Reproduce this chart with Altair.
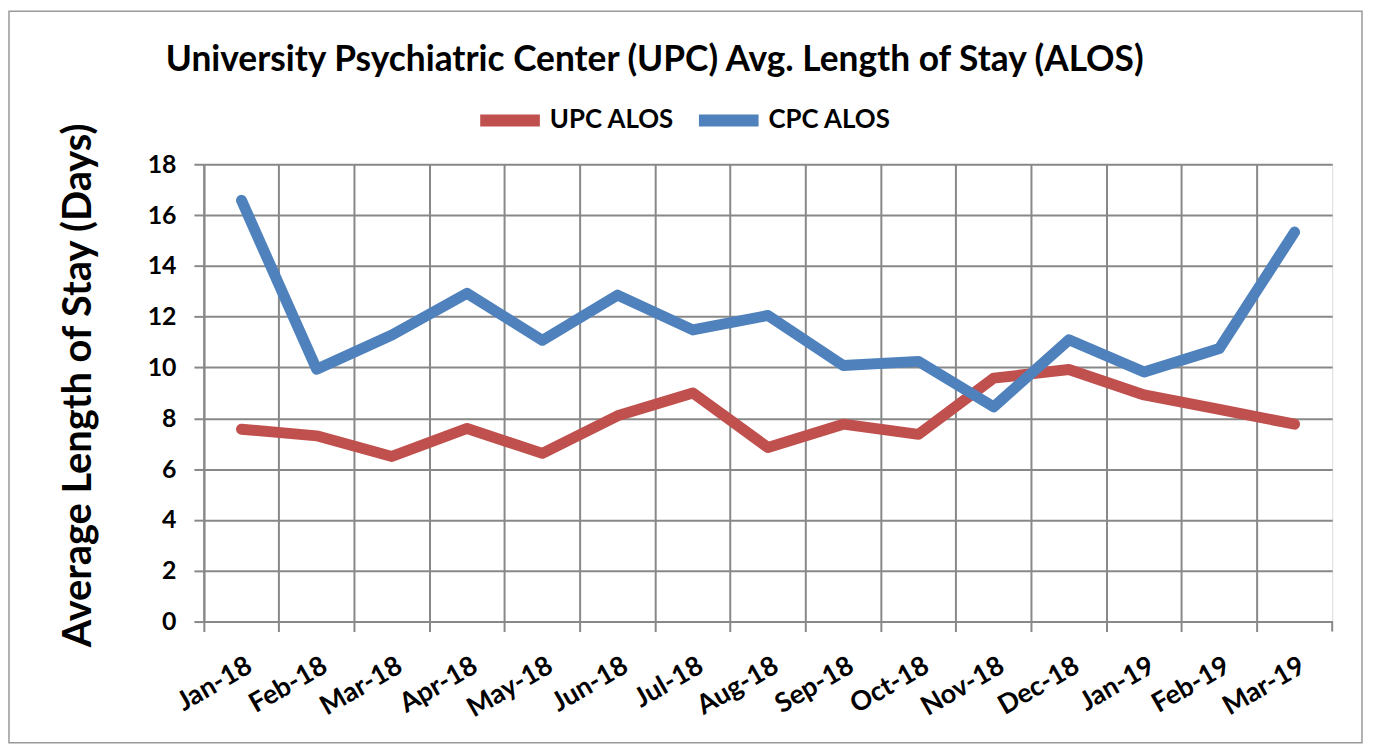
import altair as alt
import pandas as pd

months = ["Jan-18", "Feb-18", "Mar-18", "Apr-18", "May-18", "Jun-18", "Jul-18", "Aug-18",
          "Sep-18", "Oct-18", "Nov-18", "Dec-18", "Jan-19", "Feb-19", "Mar-19"]
upc_alos = [7.57, 7.31, 6.50, 7.60, 6.62, 8.10, 9.00, 6.85, 7.77, 7.37, 9.58, 9.92, 8.92, 8.35, 7.77]
cpc_alos = [16.58, 9.93, 11.28, 12.92, 11.07, 12.85, 11.48, 12.05, 10.08, 10.24, 8.45, 11.09, 9.82, 10.75, 15.33]
series_names = ["UPC ALOS", "CPC ALOS"]
series_colors = ["#C0504D", "#4F81BD"]

df = pd.DataFrame(
    [{"Month": m, "Series": series_names[0], "Value": v} for m, v in zip(months, upc_alos)]
    + [{"Month": m, "Series": series_names[1], "Value": v} for m, v in zip(months, cpc_alos)]
)

W, H = 1135, 460
FONT = "Lato"
GRID = "#888888"

lines = alt.Chart(df).mark_line(strokeWidth=11, strokeCap="round", strokeJoin="round").encode(
    x=alt.X("Month:O", sort=months, bandPosition=0.5,
            scale=alt.Scale(type="band", paddingInner=0, paddingOuter=0),
            axis=alt.Axis(title=None, bandPosition=0, labelOffset=2,
                          labelAngle=-30, labelAlign="right", labelBaseline="top",
                          labelFont=FONT, labelFontSize=27, labelFontWeight="bold",
                          labelColor="black", labelPadding=21,
                          grid=True, gridColor=GRID, gridWidth=2,
                          tickSize=10, tickColor=GRID, tickWidth=2,
                          domainColor=GRID, domainWidth=2)),
    y=alt.Y("Value:Q", scale=alt.Scale(domain=[0, 18], nice=False),
            axis=alt.Axis(values=list(range(0, 19, 2)), title="Average Length of Stay (Days)",
                          titleFont=FONT, titleFontSize=40, titleFontWeight="bold", titleColor="black",
                          titleX=-114, titleY=222, titleBaseline="alphabetic", titleAngle=-90,
                          labelFont=FONT, labelFontSize=25, labelFontWeight="bold", labelColor="black",
                          labelPadding=18,
                          grid=True, gridColor=GRID, gridWidth=2,
                          tickSize=10, tickColor=GRID, tickWidth=2,
                          domainColor=GRID, domainWidth=2)),
    color=alt.Color("Series:N", sort=series_names,
                    scale=alt.Scale(domain=series_names, range=series_colors),
                    legend=alt.Legend(title=None, orient="none", legendX=272, legendY=-80,
                                      direction="horizontal", symbolType="stroke",
                                      symbolSize=3600, symbolStrokeWidth=12,
                                      labelFont=FONT, labelFontSize=26, labelFontWeight="bold",
                                      labelColor="black", labelOffset=4, columnPadding=0)),
    order=alt.Order("Series:N"),
)

deco = pd.DataFrame({"k": [0]})
right_tick = alt.Chart(deco).mark_rule(color=GRID, strokeWidth=2).encode(
    x=alt.value(W), y=alt.value(H), y2=alt.value(H + 10))
border = alt.Chart(deco).mark_rect(fill=None, stroke="#999999", strokeWidth=1.5).encode(
    x=alt.value(-196), x2=alt.value(W + 30), y=alt.value(-154), y2=alt.value(H + 122))

chart = alt.layer(border, lines, right_tick).properties(
    width=W, height=H,
    title=alt.TitleParams("University Psychiatric Center (UPC) Avg. Length of Stay (ALOS)",
                          font=FONT, fontSize=35.5, fontWeight="bold", color="black",
                          anchor="middle", dx=-114, baseline="alphabetic", offset=-96),
    autosize=alt.AutoSizeParams(type="none"),
    padding={"left": 197, "top": 155, "right": 33, "bottom": 126},
).configure_view(stroke=GRID, strokeWidth=2).configure(background="white")

chart.save("out.html", embed_options={"renderer": "svg", "actions": False})
